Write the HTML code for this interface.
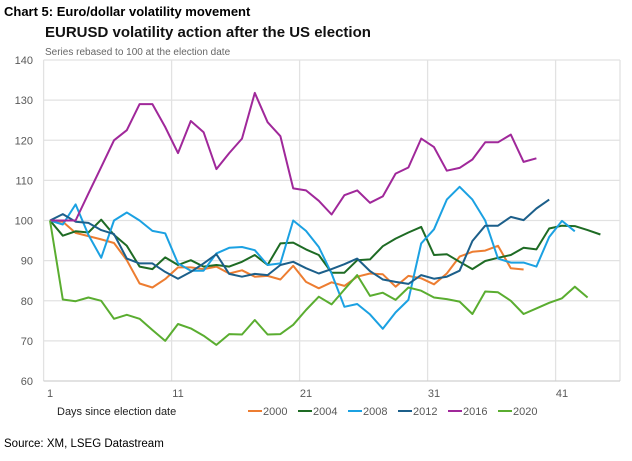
<!DOCTYPE html>
<html><head><meta charset="utf-8">
<style>
html,body{margin:0;padding:0;background:#fff;}
body{width:632px;height:456px;position:relative;overflow:hidden;font-family:"Liberation Sans",sans-serif;}
</style></head>
<body>
<svg id="chart" width="632" height="456" xmlns="http://www.w3.org/2000/svg">
<text x="4" y="16" font-family="Liberation Sans, sans-serif" font-size="13" font-weight="bold" fill="#000">Chart 5: Euro/dollar volatility movement</text>
<text x="45" y="37" font-size="15" font-weight="bold" fill="#111">EURUSD volatility action after the US election</text>
<text x="45" y="55" font-size="10" fill="#666">Series rebased to 100 at the election date</text>
<g id="grid"></g>
<g id="series"></g>
<g id="legend"></g>
<text x="57" y="415" font-size="11" fill="#222">Days since election date</text>
<text x="4" y="447" font-size="11.5" fill="#000">Source: XM, LSEG Datastream</text>
</svg>
<script>
const yTicks=[60,70,80,90,100,110,120,130,140];
const xTicks=[1,11,21,31,41];
const years=["2000","2004","2008","2012","2016","2020"];
const colors=["#ED7D31","#1E6B24","#1BA1E2","#1C5F8A","#A0289A","#5AAD30"];
const s2000=[100,99.7,96.9,96.1,95.3,94.4,90.1,84.3,83.3,85.4,88.3,88.3,87.9,88.5,86.8,87.6,86,86.2,85.3,88.7,84.7,83.1,84.6,83.7,86,86.8,86.6,83.5,86.2,85.6,84.1,86.8,91,92.2,92.5,93.7,88.1,87.8];
const s2004=[100,96.2,97.3,97,100.2,96.4,93.7,88.5,87.9,90.8,88.9,90.1,88.5,88.9,88.5,89.7,91.4,88.9,94.3,94.5,92.8,91.4,87,87,90.1,90.3,93.6,95.5,97,98.4,91.4,91.6,89.7,87.9,89.9,90.7,91.4,93.2,92.8,98,98.7,98.6,97.6,96.5];
const s2008=[100,99,104,96.4,90.7,100,102,100,97.4,96.8,89.3,87.5,87.5,91.8,93.2,93.4,92.6,88.9,89.3,100,97.4,93.4,86.8,78.5,79.2,76.6,73,77.1,80.2,94.3,97.8,105.2,108.4,105.2,100,90.5,89.5,89.5,88.5,95.9,99.9,97.3];
const s2012=[100,101.6,99.7,99.4,97.6,96.6,90.5,89.3,89.3,87.2,85.5,87.2,89.3,91.6,86.7,86,86.7,86.4,88.9,89.7,88.1,86.8,87.9,89.1,90.5,87.4,85.3,84.7,84.2,86.4,85.5,86,87.5,94.9,98.7,98.7,100.9,100.1,103,105.2];
const s2016=[100,100,100,106.7,113.3,120,122.5,129,129,123.3,116.8,124.8,122,112.8,116.8,120.4,131.8,124.5,121,108,107.5,104.9,101.5,106.3,107.5,104.4,106,111.7,113.2,120.4,118.3,112.4,113.1,115.2,119.5,119.5,121.4,114.6,115.5];
const s2020=[100,80.3,79.9,80.8,80,75.5,76.5,75.5,72.7,70,74.2,73.1,71.3,69,71.7,71.6,75.2,71.6,71.7,74,77.7,81,79.1,82.8,86.4,81.2,82,80.2,83.3,82.5,80.8,80.4,79.8,76.7,82.3,82.1,80,76.7,78.1,79.5,80.6,83.5,80.8];
const seriesData=[s2000,s2004,s2008,s2012,s2016,s2020];

const NS="http://www.w3.org/2000/svg";
const L=43.6,R=620,T=60,B=381;
function xS(day){return 50+(day-1)*12.8;}
function yS(v){return B-(v-60)/80*(B-T);}
function mk(tag,attrs,parent){const e=document.createElementNS(NS,tag);for(const k in attrs)e.setAttribute(k,attrs[k]);parent.appendChild(e);return e;}
const grid=document.getElementById('grid');
yTicks.forEach(v=>{
  if(v>60){const ln=mk('line',{x1:L,x2:R,y1:yS(v),y2:yS(v),stroke:'#e2e2e2','stroke-width':1.3},grid);
  
  }
  const t=mk('text',{x:33,y:yS(v)+4,'text-anchor':'end','font-size':11,fill:'#595959'},grid);
  t.textContent=v;
  
  
});
xTicks.forEach(d=>{
  const gx=xS(d)-6.4;
  const ln=mk('line',{x1:gx,x2:gx,y1:T,y2:B,stroke:'#e2e2e2','stroke-width':1.3},grid);
  
  
  const t=mk('text',{x:xS(d),y:397,'text-anchor':'middle','font-size':11,fill:'#595959'},grid);
  t.textContent=d;
  
  
});
const rl=mk('line',{x1:R,x2:R,y1:T,y2:B,stroke:'#e2e2e2','stroke-width':1.3},grid);


const ax=mk('line',{x1:L,x2:R,y1:B,y2:B,stroke:'#d0d0d0','stroke-width':1.3},grid);


const sg=document.getElementById('series');
seriesData.forEach((arr,i)=>{
  const pts=arr.map((v,j)=>xS(j+1).toFixed(1)+','+yS(v).toFixed(1)).join(' ');
  const p=mk('polyline',{points:pts,fill:'none',stroke:colors[i],'stroke-width':2,'stroke-linejoin':'round'},sg);
  
  
});
const lg=document.getElementById('legend');
years.forEach((y,i)=>{
  const x0=248+i*50;
  const ln=mk('line',{x1:x0,x2:x0+14,y1:411,y2:411,stroke:colors[i],'stroke-width':2},lg);
  
  
  const t=mk('text',{x:x0+15,y:415,'font-size':11,fill:'#595959'},lg);
  t.textContent=y;
  
  
});
</script>
</body></html>
